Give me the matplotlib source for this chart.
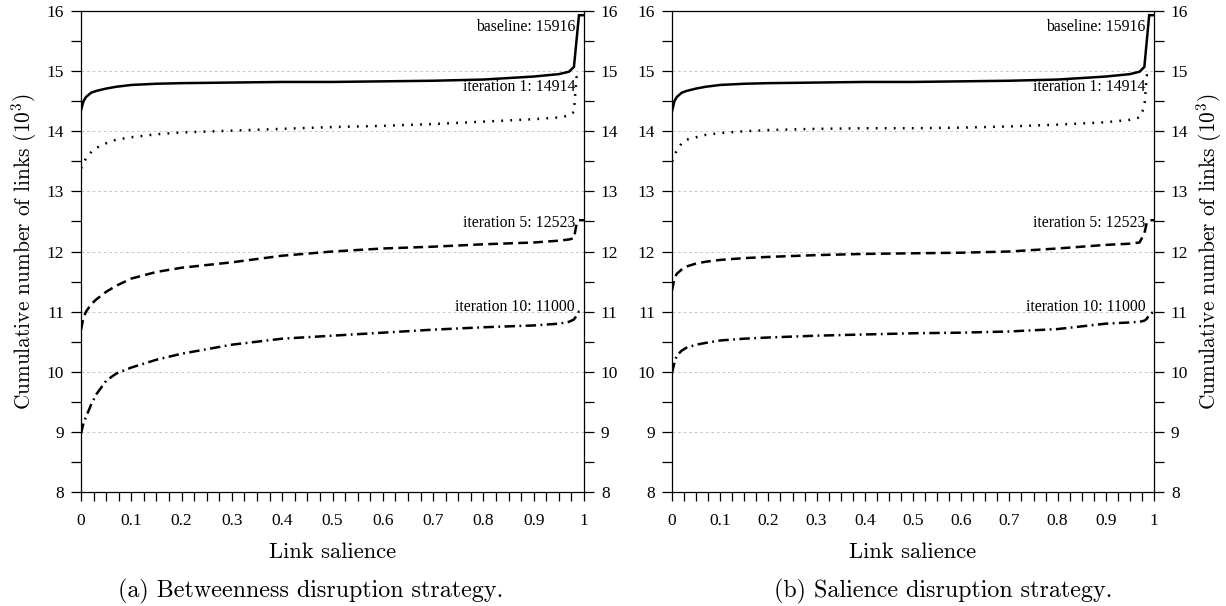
import matplotlib
matplotlib.use("Agg")
import matplotlib.pyplot as plt
from matplotlib.ticker import MultipleLocator, FixedLocator, FuncFormatter

plt.rcParams['font.family'] = ['Liberation Serif', 'DejaVu Serif']
plt.rcParams['mathtext.fontset'] = 'cm'
plt.rcParams['lines.scale_dashes'] = False

# ---- data ----
salience = [0, 0.005, 0.01, 0.02, 0.03, 0.05, 0.07, 0.1, 0.15, 0.2, 0.3, 0.4,
            0.5, 0.6, 0.7, 0.8, 0.9, 0.95, 0.97, 0.98, 0.985, 0.99, 1.0]

a_baseline = [14.35, 14.50, 14.57, 14.64, 14.67, 14.71, 14.74, 14.77, 14.79, 14.80, 14.81, 14.82,
              14.82, 14.83, 14.84, 14.86, 14.91, 14.95, 14.99, 15.07, 15.50, 15.93, 15.93]
a_iter1 = [13.38, 13.47, 13.55, 13.65, 13.72, 13.80, 13.86, 13.90, 13.95, 13.98, 14.01, 14.04,
           14.07, 14.09, 14.12, 14.16, 14.20, 14.23, 14.26, 14.32, 14.90, 14.91, 14.91]
a_iter5 = [10.70, 10.90, 11.00, 11.12, 11.20, 11.33, 11.43, 11.55, 11.66, 11.73, 11.82, 11.93,
           12.00, 12.05, 12.08, 12.12, 12.15, 12.18, 12.20, 12.22, 12.45, 12.52, 12.52]
a_iter10 = [8.97, 9.15, 9.25, 9.45, 9.62, 9.85, 9.97, 10.07, 10.20, 10.30, 10.45, 10.55,
            10.60, 10.65, 10.70, 10.74, 10.77, 10.80, 10.83, 10.87, 10.93, 11.00, 11.00]

b_baseline = [14.33, 14.50, 14.57, 14.64, 14.67, 14.71, 14.74, 14.77, 14.79, 14.80, 14.81, 14.82,
              14.82, 14.83, 14.84, 14.86, 14.91, 14.95, 14.99, 15.07, 15.50, 15.93, 15.93]
b_iter1 = [13.50, 13.60, 13.68, 13.80, 13.86, 13.90, 13.94, 13.97, 14.00, 14.02, 14.04, 14.05,
           14.05, 14.06, 14.08, 14.11, 14.15, 14.19, 14.23, 14.40, 14.93, 14.93, 14.93]
b_iter5 = [11.35, 11.55, 11.63, 11.70, 11.75, 11.80, 11.83, 11.86, 11.89, 11.91, 11.94, 11.96,
           11.97, 11.98, 12.00, 12.05, 12.11, 12.13, 12.15, 12.30, 12.48, 12.52, 12.52]
b_iter10 = [9.98, 10.15, 10.27, 10.35, 10.40, 10.45, 10.48, 10.52, 10.55, 10.57, 10.60, 10.62,
            10.64, 10.65, 10.67, 10.71, 10.80, 10.82, 10.83, 10.85, 10.88, 10.95, 11.00]

series_labels = ["baseline: 15916", "iteration 1: 14914", "iteration 5: 12523", "iteration 10: 11000"]
label_y = [15.73, 14.73, 12.48, 11.08]
captions = ["(a) Betweenness disruption strategy.", "(b) Salience disruption strategy."]
xlabel = "Link salience"
ylabel = "Cumulative number of links (10$^3$)"
xticks = [0, 0.1, 0.2, 0.3, 0.4, 0.5, 0.6, 0.7, 0.8, 0.9, 1.0]
yticks = [8, 9, 10, 11, 12, 13, 14, 15, 16]

styles = [
    dict(linestyle='-', lw=1.8),
    dict(linestyle=(0, (1.3, 5.2)), lw=1.8),
    dict(linestyle=(0, (7.0, 3.8)), lw=1.8),
    dict(linestyle=(0, (7.5, 3.2, 1.3, 3.2)), lw=1.8),
]

W, H = 1226, 606
fig = plt.figure(figsize=(W / 100, H / 100), dpi=100)
top, bottom = 11, 492
panels = [
    (81, 584, [a_baseline, a_iter1, a_iter5, a_iter10], 'left', 311),
    (672, 1154, [b_baseline, b_iter1, b_iter5, b_iter10], 'right', 943),
]

def fmt(v, pos):
    s = f"{v:.1f}"
    if s.endswith(".0"):
        s = s[:-2]
    return s

for i, (x0, x1, data, lab_side, cap_x) in enumerate(panels):
    ax = fig.add_axes([x0 / W, 1 - bottom / H, (x1 - x0) / W, (bottom - top) / H])
    ax.set_xlim(0, 1)
    ax.set_ylim(8, 16)
    for k, ys in enumerate(data):
        ax.plot(salience, ys, color='black', solid_joinstyle='miter',
                dash_capstyle='butt', **styles[k])
        ax.text(0.982, label_y[k], series_labels[k], transform=ax.get_yaxis_transform(),
                ha='right', va='center', fontsize=11.3)
    ax.yaxis.set_major_locator(FixedLocator(yticks))
    ax.yaxis.set_minor_locator(MultipleLocator(0.5))
    ax.xaxis.set_major_locator(FixedLocator(xticks))
    ax.xaxis.set_minor_locator(MultipleLocator(0.025))
    ax.xaxis.set_major_formatter(FuncFormatter(fmt))
    ax.tick_params(axis='y', which='both', direction='out', length=7.2, width=0.9,
                   left=True, right=True, labelleft=True, labelright=True,
                   labelsize=12.5, pad=5)
    ax.tick_params(axis='x', which='both', direction='out', length=6.5, width=0.9,
                   top=False, labelsize=12.5, pad=8.5)
    ax.grid(axis='y', which='major', color='#bdbdbd', linestyle=(0, (2, 2)), lw=0.6)
    ax.set_axisbelow(True)
    for sp in ax.spines.values():
        sp.set_linewidth(0.9)
    cx = (x0 + x1) / 2 / W
    fig.text(cx, 1 - 552 / H, xlabel, ha='center', va='center', fontsize=16.2, family='cmr10')
    fig.text(cap_x / W, 1 - 591 / H, captions[i], ha='center', va='center', fontsize=17.3,
             family='cmr10')
    lx = 24 if lab_side == 'left' else 1209
    fig.text(lx / W, 1 - (top + bottom) / 2 / H, ylabel, rotation=90, ha='center', va='center',
             fontsize=15.4, family='cmr10')

fig.savefig("out.png", dpi=100)
